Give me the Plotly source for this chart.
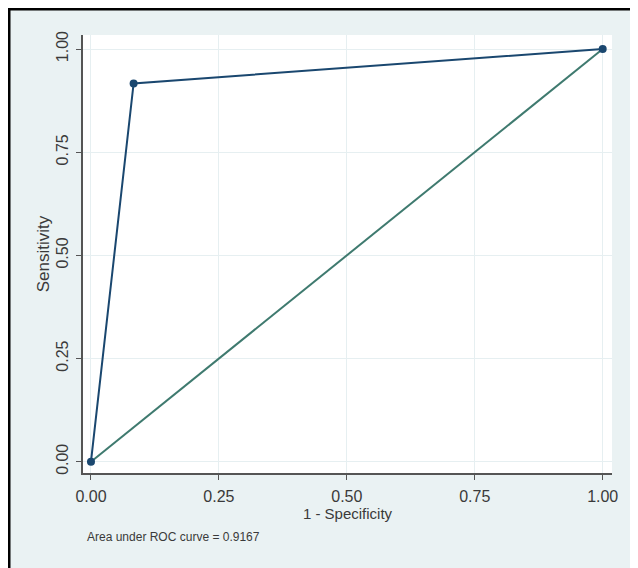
import plotly.graph_objects as go

# Data
fpr = [0.0, 0.0833, 1.0]          # 1 - Specificity
tpr = [0.0, 0.9167, 1.0]          # Sensitivity
ref_x = [0.0, 1.0]
ref_y = [0.0, 1.0]
tick_vals = [0.0, 0.25, 0.5, 0.75, 1.0]
tick_text = ["0.00", "0.25", "0.50", "0.75", "1.00"]
auc_text = "Area under ROC curve = 0.9167"

W, H = 630, 560
ML, MR, MT, MB = 75, 26, 27, 95
PW, PH = W - ML - MR, H - MT - MB
FONT = "Liberation Sans, Arial, sans-serif"
NAVY = "#1a476f"
TEAL = "#3f7a6f"
BG = "#eaf2f3"
TXT = "#3a3a3a"


def px(fx):
    return (fx - ML) / PW


def py(fy):
    return (H - MB - fy) / PH


fig = go.Figure()
fig.add_trace(go.Scatter(x=ref_x, y=ref_y, mode="lines",
                         line=dict(color=TEAL, width=2), showlegend=False,
                         hoverinfo="skip"))
fig.add_trace(go.Scatter(x=fpr, y=tpr, mode="lines+markers",
                         line=dict(color=NAVY, width=2),
                         marker=dict(color=NAVY, size=8, symbol="circle"),
                         showlegend=False))

shapes = [
    # white strip at the right edge
    dict(type="rect", xref="paper", yref="paper", layer="below",
         x0=px(622), x1=px(W), y0=py(H), y1=py(0),
         fillcolor="white", line=dict(width=0)),
    # black frame on the left and top
    dict(type="line", xref="paper", yref="paper",
         x0=px(1), x1=px(1), y0=py(H), y1=py(0),
         line=dict(color="black", width=3)),
    dict(type="line", xref="paper", yref="paper",
         x0=px(0), x1=px(W), y0=py(1), y1=py(1),
         line=dict(color="black", width=3)),
]

fig.update_layout(
    width=W, height=H,
    margin=dict(l=ML, r=MR, t=MT, b=MB),
    paper_bgcolor=BG,
    plot_bgcolor="white",
    font=dict(family=FONT, size=16, color=TXT),
    shapes=shapes,
    xaxis=dict(range=[-0.0156, 1.0182], tickvals=tick_vals, ticktext=tick_text,
               showgrid=True, gridcolor="#e6eff1", gridwidth=1, zeroline=False,
               showline=True, linecolor="#555555", linewidth=1.5,
               ticks="outside", ticklen=5, tickcolor="#555555",
               ticklabelstandoff=3,
               tickfont=dict(size=16, color=TXT),
               title=dict(text="1 - Specificity", standoff=0,
                          font=dict(size=15, color=TXT))),
    yaxis=dict(range=[-0.0274, 1.034], tickvals=tick_vals, ticktext=tick_text,
               showgrid=True, gridcolor="#e6eff1", gridwidth=1, zeroline=False,
               showline=True, linecolor="#555555", linewidth=1.5,
               ticks="outside", ticklen=5, tickcolor="#555555",
               tickangle=-90, ticklabelstandoff=2,
               tickfont=dict(size=16, color=TXT),
               title=dict(text="Sensitivity", standoff=0,
                          font=dict(size=17, color=TXT))),
    annotations=[dict(text=auc_text, xref="paper", yref="paper",
                      x=px(77), y=py(529), xanchor="left",
                      yanchor="middle", showarrow=False,
                      font=dict(size=12, color=TXT))],
)

fig.write_html("out.html")
